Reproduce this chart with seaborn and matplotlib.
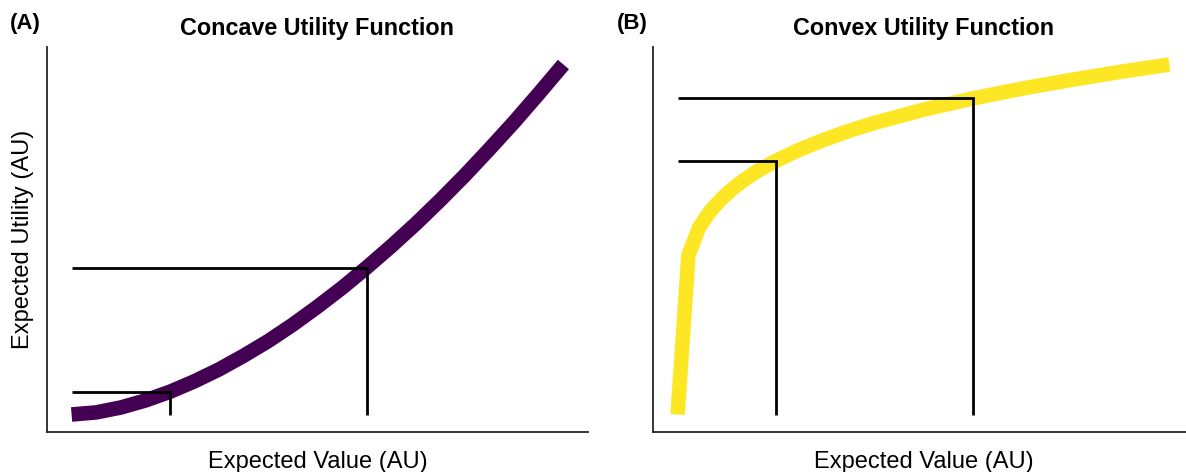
import numpy as np
import pandas as pd
import matplotlib
matplotlib.use("Agg")
import matplotlib.pyplot as plt
import seaborn as sns

# Expected value (AU) and expected utility (AU) for each utility curve
concave_value = [0, 0.5, 1, 1.5, 2, 2.5, 3, 3.5, 4, 4.5, 5,
                 5.5, 6, 6.5, 7, 7.5, 8, 8.5, 9, 9.5, 10]
concave_utility = [0, 0.6, 2.0, 4.0, 6.5, 9.5, 12.9, 16.8, 21.0, 25.7, 30.8,
                   36.2, 42.0, 48.1, 54.5, 61.3, 68.4, 75.9, 83.6, 91.7, 100]

convex_value = [0, 0.22, 0.44, 0.67, 0.89, 1.11, 1.33, 1.56, 1.78, 2.0,
                2.5, 3, 3.5, 4, 5, 6, 7, 8, 9, 10]
convex_utility = [0, 45.5, 53.5, 58.2, 61.6, 64.4, 66.8, 69.0, 70.8, 72.5,
                  75.8, 78.6, 81.1, 83.3, 87.1, 90.3, 93.1, 95.6, 97.9, 100]

# Highlighted (value, utility) pairs on each curve
concave_marks_value = [2, 6]
concave_marks_utility = [6.5, 42.0]
convex_marks_value = [2, 6]
convex_marks_utility = [72.5, 90.3]

titles = ["Concave Utility Function", "Convex Utility Function"]
panel_tags = ["(A)", "(B)"]
curve_colors = ["#440154", "#fde725"]

sns.set_theme(style="white")
plt.rcParams["font.family"] = ["Liberation Sans", "DejaVu Sans"]
plt.rcParams["text.color"] = "black"
plt.rcParams["axes.labelcolor"] = "black"

W, H = 1186, 472
fig = plt.figure(figsize=(W / 100, H / 100), dpi=100)

ax_w = 541 / W
ax_h = 385 / H
ax_b = 1 - 432 / H
axes = [fig.add_axes([47 / W, ax_b, ax_w, ax_h]),
        fig.add_axes([653 / W, ax_b, ax_w, ax_h])]

panels = [
    (concave_value, concave_utility, concave_marks_value, concave_marks_utility),
    (convex_value, convex_utility, convex_marks_value, convex_marks_utility),
]

for i, (ax, (xv, yv, mx, my)) in enumerate(zip(axes, panels)):
    df = pd.DataFrame({"value": xv, "utility": yv})
    sns.lineplot(data=df, x="value", y="utility", ax=ax, color=curve_colors[i],
                 linewidth=10.5, sort=False, estimator=None,
                 solid_capstyle="butt", solid_joinstyle="round")
    x0, y0 = xv[0], yv[0]
    for xm, ym in zip(mx, my):
        ax.plot([x0, xm, xm], [ym, ym, y0], color="black", linewidth=2.0,
                solid_joinstyle="miter", solid_capstyle="butt")
    ax.set_xticks([])
    ax.set_yticks([])
    ax.set_xlabel("Expected Value (AU)", fontsize=17, labelpad=14)
    ax.set_ylabel("Expected Utility (AU)" if i == 0 else "", fontsize=17,
                  labelpad=9)
    ax.set_title(titles[i], fontsize=16.8, fontweight="bold", pad=9)
    sns.despine(ax=ax)
    for side in ("left", "bottom"):
        ax.spines[side].set_linewidth(1.3)
        ax.spines[side].set_color("#262626")

fig.text(25 / W, 1 - 24 / H, panel_tags[0], fontsize=16, fontweight="bold",
         ha="center", va="center")
fig.text(632 / W, 1 - 24 / H, panel_tags[1], fontsize=16, fontweight="bold",
         ha="center", va="center")

fig.savefig("out.png", dpi=100)
